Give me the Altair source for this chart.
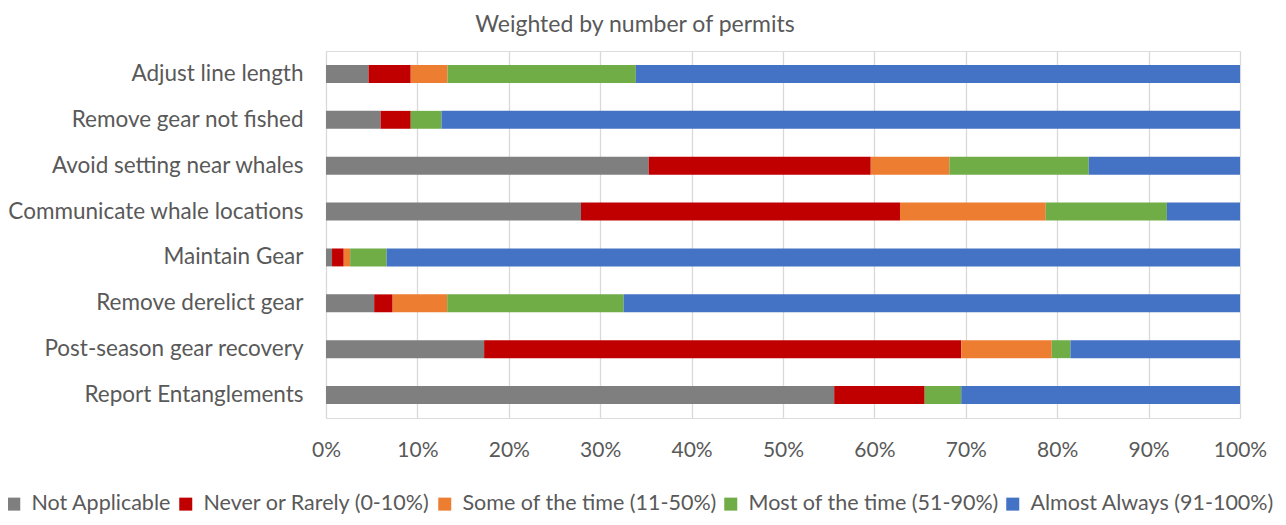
import altair as alt
import pandas as pd

tasks = [
    "Adjust line length",
    "Remove gear not fished",
    "Avoid setting near whales",
    "Communicate whale locations",
    "Maintain Gear",
    "Remove derelict gear",
    "Post-season gear recovery",
    "Report Entanglements",
]
series = [
    "Not Applicable",
    "Never or Rarely (0-10%)",
    "Some of the time (11-50%)",
    "Most of the time (51-90%)",
    "Almost Always (91-100%)",
]
colors = ["#7f7f7f", "#c00000", "#ed7d31", "#70ad47", "#4472c4"]

not_applicable = [4.65, 5.97, 35.3, 27.9, 0.66, 5.27, 17.3, 55.6]
never_rarely = [4.62, 3.30, 24.3, 34.9, 1.28, 2.02, 52.2, 9.9]
some_time = [4.03, 0.0, 8.6, 15.95, 0.70, 5.97, 9.9, 0.0]
most_time = [20.6, 3.37, 15.25, 13.25, 3.99, 19.3, 2.05, 4.0]
almost_always = [66.1, 87.36, 16.55, 8.0, 93.37, 67.44, 18.55, 30.5]

x_ticks = [0, 0.1, 0.2, 0.3, 0.4, 0.5, 0.6, 0.7, 0.8, 0.9, 1.0]

rows = []
for si, (name, vals) in enumerate(zip(series, [not_applicable, never_rarely, some_time, most_time, almost_always])):
    for t, v in zip(tasks, vals):
        rows.append({"task": t, "series": name, "order": si, "value": v / 100.0})
df = pd.DataFrame(rows)

FONT = "Lato"
TXT = "#595959"

chart = alt.Chart(df).mark_bar().encode(
    y=alt.Y(
        "task:N",
        sort=tasks,
        title=None,
        scale=alt.Scale(paddingInner=0.61, paddingOuter=0.305),
        axis=alt.Axis(
            ticks=False, domain=False, grid=False, labelFontSize=22.5,
            labelColor=TXT, labelPadding=23, labelFont=FONT, labelLimit=400,
        ),
    ),
    x=alt.X(
        "value:Q",
        stack="zero",
        title=None,
        scale=alt.Scale(domain=[0, 1], nice=False),
        axis=alt.Axis(
            values=x_ticks, format=".0%", ticks=False, domain=False,
            grid=True, gridColor="#d9d9d9", gridWidth=1.3, labelFontSize=21,
            labelColor=TXT, labelPadding=21, labelFont=FONT, labelFlush=False,
        ),
    ),
    color=alt.Color(
        "series:N",
        scale=alt.Scale(domain=series, range=colors),
        legend=alt.Legend(
            title=None, orient="none", direction="horizontal",
            legendX=-323, legendY=442, symbolType="square", symbolSize=169,
            symbolStrokeWidth=0, labelFontSize=21.5, labelColor=TXT, labelFont=FONT,
            labelOffset=7, columnPadding=3, labelLimit=400, padding=0,
        ),
    ),
    order=alt.Order("order:Q", sort="ascending"),
).properties(
    width=914,
    height=367,
    autosize=alt.AutoSizeParams(type="none"),
    padding={"left": 318, "top": 43, "right": 38, "bottom": 99},
    title=alt.TitleParams(
        "Weighted by number of permits", fontSize=23, font=FONT, color=TXT,
        fontWeight="normal", anchor="middle", frame="group", dx=-148,
        offset=14,
    ),
).configure_view(stroke=None).configure(background="white")

chart.save("out.html", embed_options={"renderer": "svg", "actions": False})
